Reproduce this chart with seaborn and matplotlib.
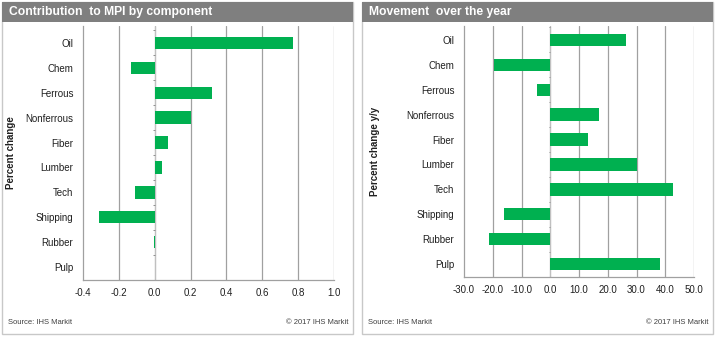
import matplotlib
matplotlib.use("Agg")
import matplotlib.pyplot as plt
from matplotlib.patches import Rectangle
import seaborn as sns
import pandas as pd

# Commodity components
components = ["Oil", "Chem", "Ferrous", "Nonferrous", "Fiber",
              "Lumber", "Tech", "Shipping", "Rubber", "Pulp"]
# Contribution to MPI (percentage points)
contribution = [0.77, -0.13, 0.32, 0.20, 0.076, 0.04, -0.11, -0.31, -0.005, 0.0]
# Year-over-year movement (%)
movement = [26.3, -19.6, -4.5, 16.9, 13.1, 30.1, 42.6, -16.1, -21.2, 38.2]

left_ticks = [-0.4, -0.2, 0.0, 0.2, 0.4, 0.6, 0.8, 1.0]
right_ticks = [-30, -20, -10, 0, 10, 20, 30, 40, 50]

titles = ["Contribution  to MPI by component", "Movement  over the year"]
ylabels = ["Percent change", "Percent change y/y"]

GREEN = "#00b050"
GRID = "#a0a0a0"
W, H = 719, 341

sns.set_theme(style="white")
plt.rcParams["font.family"] = ["Liberation Sans", "DejaVu Sans"]

fig = plt.figure(figsize=(W / 100, H / 100), dpi=100)
fig.patch.set_facecolor("white")


def px_rect(x0, y0, x1, y1):
    return [x0 / W, 1 - y1 / H, (x1 - x0) / W, (y1 - y0) / H]


def panel(frame, axbox, values, ticks, fmt, title, ylabel, ylab_x, top_lim):
    fx0, fy0, fx1, fy1 = frame
    # panel frame and title bar (kept beneath the axes)
    fig.patches.append(Rectangle((fx0 / W, 1 - fy1 / H), (fx1 - fx0) / W, (fy1 - fy0) / H,
                                 transform=fig.transFigure, facecolor="white",
                                 edgecolor="#c8c8c8", lw=1.0, zorder=-2))
    fig.patches.append(Rectangle((fx0 / W, 1 - (fy0 + 20) / H), (fx1 - fx0) / W, 20 / H,
                                 transform=fig.transFigure, facecolor="#7f7f7f",
                                 edgecolor="none", zorder=-1))
    fig.text((fx0 + 7) / W, 1 - (fy0 + 10) / H, title, color="white", fontsize=8.7,
             fontweight="bold", va="center", ha="left")
    fig.text((fx0 + 6) / W, 1 - (fy1 - 12) / H, "Source: IHS Markit", fontsize=5.5,
             color="#404040", va="center", ha="left")
    fig.text((fx1 - 4) / W, 1 - (fy1 - 12) / H, "\u00a9 2017 IHS Markit", fontsize=5.5,
             color="#404040", va="center", ha="right")
    fig.text(ylab_x / W, 1 - ((axbox[1] + axbox[3]) / 2) / H, ylabel, rotation=90,
             fontsize=7, fontweight="bold", va="center", ha="center", color="#202020")

    ax = fig.add_axes(px_rect(*axbox))
    ax.set_zorder(1)
    df = pd.DataFrame({"component": components, "value": values})
    sns.barplot(data=df, y="component", x="value", orient="h", color=GREEN,
                width=0.5, saturation=1, ax=ax, zorder=3)
    for p in ax.patches:
        p.set_edgecolor("none")
    ax.set_xlim(ticks[0], ticks[-1])
    ax.set_ylim(len(components) - 0.48, top_lim)
    ax.set_xticks(ticks)
    ax.set_xticklabels([fmt.format(t) for t in ticks], fontsize=7, color="#202020")
    ax.tick_params(axis="y", labelsize=7, length=0, pad=7, colors="#202020")
    ax.tick_params(axis="x", length=3, width=0.8, color=GRID, pad=3)
    ax.set_xlabel("")
    ax.set_ylabel("")
    ax.set_facecolor("none")
    for t in ticks[1:]:
        ax.axvline(t, color=GRID, lw=0.9, zorder=1)
    for s in ["top", "right"]:
        ax.spines[s].set_visible(False)
    for s in ["left", "bottom"]:
        ax.spines[s].set_color(GRID)
        ax.spines[s].set_linewidth(0.9)
    # category axis at zero with small separator ticks
    ax.axvline(0, color="#c0c0c0", lw=0.8, zorder=2)
    span = ticks[-1] - ticks[0]
    ax.hlines([i + 0.5 for i in range(len(components) - 1)] + [-0.5],
              -span * 0.006, 0, color="#909090", lw=0.7, zorder=2)
    return ax


panel((2, 2, 353, 334), (83, 26, 334, 280), contribution, left_ticks, "{:.1f}",
      titles[0], ylabels[0], 11, -0.68)
panel((362, 2, 713, 334), (464, 26, 694, 277), movement, right_ticks, "{:.1f}",
      titles[1], ylabels[1], 375, -0.56)

fig.savefig("out.png", dpi=100)
